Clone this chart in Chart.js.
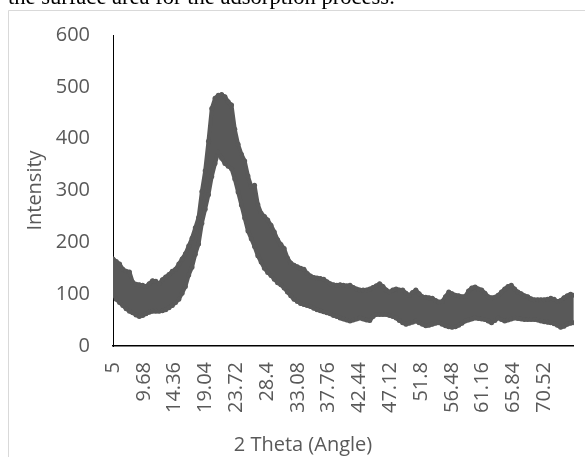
<!DOCTYPE html>
<html><head><meta charset="utf-8">
<script src="https://cdn.jsdelivr.net/npm/chart.js@4.4.1/dist/chart.umd.min.js"></script>
<style>
html,body{margin:0;padding:0;background:#fff;overflow:hidden;}
canvas{display:block;}
</style></head>
<body>
<canvas id="c" width="585" height="457"></canvas>
<script>
// 2 Theta angles (degrees)
const angles = [
5,5.5,6,6.5,7,7.5,8,8.5,9,9.5,
10,10.5,11,11.5,12,12.5,13,13.5,14,14.5,
15,15.5,16,16.5,17,17.5,18,18.5,19,19.5,
20,20.5,21,21.5,22,22.5,23,23.5,24,24.5,
25,25.5,26,26.5,27,27.5,28,28.5,29,29.5,
30,30.5,31,31.5,32,32.5,33,33.5,34,34.5,
35,35.5,36,36.5,37,37.5,38,38.5,39,39.5,
40,40.5,41,41.5,42,42.5,43,43.5,44,44.5,
45,45.5,46,46.5,47,47.5,48,48.5,49,49.5,
50,50.5,51,51.5,52,52.5,53,53.5,54,54.5,
55,55.5,56,56.5,57,57.5,58,58.5,59,59.5,
60,60.5,61,61.5,62,62.5,63,63.5,64,64.5,
65,65.5,66,66.5,67,67.5,68,68.5,69,69.5,
70,70.5,71,71.5,72,72.5,73,73.5,74,74.5,
75];
// upper edge of the noisy intensity band
const intensityHigh = [
168,163,158,148,144,143,123,119,118,117,
115,120,126,125,120,128,133,138,144,148,
158,168,178,193,208,228,248,298,338,395,
458,478,484,485,481,471,465,418,389,370,
357,328,308,310,273,256,250,243,233,220,
205,196,188,170,160,156,153,150,148,140,
135,132,131,130,129,124,120,118,117,118,
117,116,117,113,110,108,108,108,110,113,
116,120,115,108,104,108,110,108,108,102,
98,103,108,101,95,94,93,92,88,85,
86,95,104,101,98,97,95,96,106,112,
114,110,108,102,95,93,94,98,104,110,
115,117,110,104,101,97,95,91,89,89,
89,89,90,92,90,86,88,93,97,100,
98];
// lower edge of the noisy intensity band
const intensityLow = [
102,90,84,78,72,67,64,60,57,59,
62,65,67,67,67,68,70,74,78,84,
90,102,115,137,152,177,197,237,264,292,
327,352,374,362,352,347,342,322,297,272,
247,222,207,192,174,162,150,142,136,129,
122,118,112,104,97,90,86,82,80,78,
76,73,70,68,66,64,62,59,57,54,
52,50,48,50,52,54,52,50,49,57,
61,61,61,61,59,57,54,49,45,42,
44,46,48,45,42,39,40,42,44,45,
42,39,37,36,37,40,44,48,50,52,
54,53,52,51,48,45,49,54,51,48,
50,52,54,53,52,51,51,51,51,50,
48,47,46,45,43,40,36,38,42,44,
45];
const xTickValues = [5,9.68,14.36,19.04,23.72,28.4,33.08,37.76,42.44,47.12,51.8,56.48,61.16,65.84,70.52];
const xTickLabels = ["5","9.68","14.36","19.04","23.72","28.4","33.08","37.76","42.44","47.12","51.8","56.48","61.16","65.84","70.52"];
const yTicks = [0,100,200,300,400,500,600];

const caption = "the surface area for the adsorption process.";
const xTitle = "2 Theta (Angle)";
const yTitle = "Intensity";

const bandColor = '#595959';
const textColor = '#595959';

const highPts = angles.map((a,i)=>({x:a, y:intensityHigh[i]}));
const lowPts = angles.map((a,i)=>({x:a, y:intensityLow[i]}));

const decor = {
  id:'decor',
  beforeDraw(chart){
    const ctx = chart.ctx;
    ctx.save();
    ctx.fillStyle='#fff';
    ctx.fillRect(0,0,chart.width,chart.height);
    ctx.strokeStyle='#d9d9d9';
    ctx.lineWidth=1;
    ctx.beginPath();
    ctx.moveTo(8.5, 460); ctx.lineTo(8.5,10.5); ctx.lineTo(600,10.5);
    ctx.stroke();
    ctx.fillStyle='#000';
    ctx.font='100px "Liberation Serif"';
    const w = ctx.measureText(caption).width;
    const size = 100*387/w;
    ctx.font = size.toFixed(2)+'px "Liberation Serif"';
    ctx.textAlign='left';
    ctx.textBaseline='alphabetic';
    ctx.fillText(caption, 8, 4);
    ctx.restore();
  },
  afterDraw(chart){
    const ctx = chart.ctx;
    ctx.save();
    ctx.fillStyle=textColor;
    ctx.font='20px "Open Sans"';
    ctx.textAlign='center';
    ctx.textBaseline='alphabetic';
    ctx.fillText(xTitle, 303, 451);
    ctx.restore();
  }
};

const common = {borderColor:bandColor, backgroundColor:bandColor, borderWidth:4,
  pointRadius:2.5, pointBorderWidth:0, pointBackgroundColor:bandColor,
  tension:0, borderJoinStyle:'round', borderCapStyle:'round'};

new Chart(document.getElementById('c'), {
  type:'line',
  data:{
    datasets:[
      Object.assign({label:'high', data:highPts, fill:false}, common),
      Object.assign({label:'low', data:lowPts, fill:'-1'}, common)
    ]
  },
  options:{
    responsive:false,
    animation:false,
    devicePixelRatio:1,
    layout:{padding:{left:0,right:10,top:30,bottom:0}},
    plugins:{legend:{display:false}, tooltip:{enabled:false}, title:{display:false}},
    scales:{
      x:{
        type:'linear', min:5, max:75,
        afterBuildTicks:(s)=>{ s.ticks = xTickValues.map(v=>({value:v})); },
        afterFit:(s)=>{ s.height = 111; },
        ticks:{autoSkip:false, maxRotation:90, minRotation:90, padding:16, color:textColor,
          font:{family:'"Open Sans"', size:20},
          callback:(v,i)=>xTickLabels[i]},
        grid:{display:false, drawTicks:false},
        border:{display:true, color:'#000', width:1.5}
      },
      y:{
        min:0, max:600,
        afterBuildTicks:(s)=>{ s.ticks = yTicks.map(v=>({value:v})); },
        afterFit:(s)=>{ s.width = 113; },
        ticks:{padding:23, color:textColor, font:{family:'"Open Sans"', size:20}},
        grid:{display:false, drawTicks:false},
        border:{display:true, color:'#000', width:1},
        title:{display:true, text:yTitle, color:textColor, font:{family:'"Open Sans"', size:20}, padding:{top:23,bottom:0}}
      }
    }
  },
  plugins:[decor]
});
</script>
</body></html>
